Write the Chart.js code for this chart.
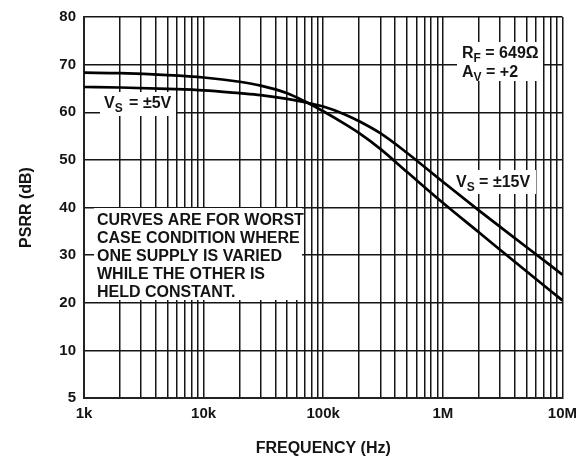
<!DOCTYPE html>
<html>
<head>
<meta charset="utf-8">
<script src="https://cdn.jsdelivr.net/npm/chart.js@4/dist/chart.umd.min.js"></script>
<style>
  html, body { margin: 0; padding: 0; background: #fff; }
  canvas { display: block; }
</style>
</head>
<body>
<canvas id="psrr" width="584" height="464"></canvas>
<script>
// Frequency points (Hz) and PSRR readings (dB) for each supply condition
const freqs   = [1e3, 2e3, 5e3, 1e4, 2e4, 3e4, 5e4, 7e4, 1e5, 1.5e5, 2e5, 3e5, 5e5, 1e6, 2e6, 5e6, 1e7];
const psrr15V = [68.3, 68.2, 67.8, 67.3, 66.4, 65.6, 64.0, 62.3, 60.2, 57.6, 55.6, 52.3, 47.5, 41.0, 34.8, 26.6, 20.5];
const psrr5V  = [65.3, 65.2, 64.9, 64.6, 64.0, 63.6, 62.8, 62.1, 61.2, 59.6, 58.1, 55.6, 51.5, 45.4, 39.4, 31.7, 25.9];

// Axis ticks
const decades      = [1e3, 1e4, 1e5, 1e6, 1e7];
const decadeLabels = ['1k', '10k', '100k', '1M', '10M'];
const yTickValues  = [0, 10, 20, 30, 40, 50, 60, 70, 80];
const yTickLabels  = ['5', '10', '20', '30', '40', '50', '60', '70', '80'];

const INK = '#141414';
const FONT = '"Liberation Sans", Arial, sans-serif';

function toPoints(ys) {
  return freqs.map((f, i) => ({ x: f, y: ys[i] }));
}

// Draws a run of text pieces, some of them subscripted
function drawRich(ctx, parts, x, y) {
  let cx = x;
  for (const p of parts) {
    ctx.font = p.sub ? 'bold 12px ' + FONT : 'bold 16px ' + FONT;
    ctx.fillText(p.t, cx, p.sub ? y + 4 : y);
    cx += ctx.measureText(p.t).width + (p.gap || 0);
  }
}

// White callout boxes and the notes inside them
const callouts = {
  id: 'callouts',
  beforeDatasetsDraw(chart) {
    const ctx = chart.ctx;
    ctx.save();
    ctx.fillStyle = '#fff';
    ctx.fillRect(100, 92, 76, 24);
    ctx.fillRect(457, 42, 86, 39);
    ctx.fillRect(453, 170, 83, 24);
    ctx.fillRect(94, 208, 208, 92);

    ctx.fillStyle = INK;
    ctx.textBaseline = 'alphabetic';
    ctx.textAlign = 'left';
    drawRich(ctx, [{ t: 'V' }, { t: 'S', sub: true, gap: 2 }, { t: ' = \u00B15V' }], 104, 108);
    drawRich(ctx, [{ t: 'R' }, { t: 'F', sub: true }, { t: ' = 649\u03A9' }], 462, 58);
    drawRich(ctx, [{ t: 'A' }, { t: 'V', sub: true }, { t: ' = +2' }], 462, 77);
    drawRich(ctx, [{ t: 'V' }, { t: 'S', sub: true }, { t: ' = \u00B115V' }], 456, 187);

    const note = ['CURVES ARE FOR WORST', 'CASE CONDITION WHERE', 'ONE SUPPLY IS VARIED',
                  'WHILE THE OTHER IS', 'HELD CONSTANT.'];
    ctx.font = 'bold 16px ' + FONT;
    note.forEach((line, i) => ctx.fillText(line, 97, 225 + i * 18));
    ctx.restore();
  }
};

new Chart(document.getElementById('psrr'), {
  type: 'line',
  data: {
    datasets: [
      { label: 'VS = \u00B115V', data: toPoints(psrr15V) },
      { label: 'VS = \u00B15V',  data: toPoints(psrr5V) }
    ]
  },
  options: {
    responsive: false,
    animation: false,
    devicePixelRatio: 1,
    layout: { padding: { top: 15, right: 19, bottom: 0, left: 0 } },
    elements: {
      point: { radius: 0 },
      line: { borderColor: '#000', borderWidth: 2.7, cubicInterpolationMode: 'monotone', fill: false }
    },
    plugins: {
      legend: { display: false },
      tooltip: { enabled: false }
    },
    scales: {
      x: {
        type: 'logarithmic',
        min: 1e3,
        max: 1e7,
        afterBuildTicks(scale) {
          const ticks = [];
          decades.forEach((d, i) => {
            ticks.push({ value: d });
            if (i < decades.length - 1) {
              for (let m = 2; m <= 9; m++) ticks.push({ value: d * m });
            }
          });
          scale.ticks = ticks;
        },
        afterFit(scale) { scale.height = 66; },
        grid: { color: '#151515', lineWidth: 1.5, drawTicks: false },
        border: { color: '#222', width: 2 },
        ticks: {
          autoSkip: false,
          maxRotation: 0,
          padding: 7,
          color: INK,
          font: { family: FONT, size: 15, weight: 'bold' },
          callback(value) {
            const i = decades.indexOf(value);
            return i >= 0 ? decadeLabels[i] : '';
          }
        },
        title: {
          display: true,
          text: 'FREQUENCY (Hz)',
          color: INK,
          font: { family: FONT, size: 16, weight: 'bold' },
          padding: { top: 0, bottom: 6 }
        }
      },
      y: {
        type: 'linear',
        min: 0,
        max: 80,
        afterBuildTicks(scale) {
          scale.ticks = yTickValues.map(v => ({ value: v }));
        },
        afterFit(scale) { scale.width = 84; },
        grid: { color: '#151515', lineWidth: 1.5, drawTicks: false },
        border: { color: '#222', width: 2 },
        ticks: {
          padding: 8,
          color: INK,
          font: { family: FONT, size: 15, weight: 'bold' },
          callback(value) {
            const i = yTickValues.indexOf(value);
            return i >= 0 ? yTickLabels[i] : '';
          }
        },
        title: {
          display: true,
          text: 'PSRR (dB)',
          color: INK,
          font: { family: FONT, size: 16, weight: 'bold' },
          padding: { top: 17, bottom: 0 }
        }
      }
    }
  },
  plugins: [callouts]
});
</script>
</body>
</html>
